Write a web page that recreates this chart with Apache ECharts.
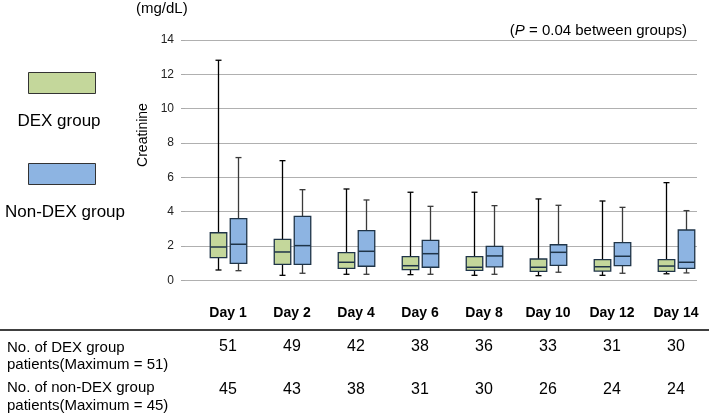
<!DOCTYPE html>
<html>
<head>
<meta charset="utf-8">
<script src="https://cdn.jsdelivr.net/npm/echarts@6/dist/echarts.min.js"></script>
<style>
html,body{margin:0;padding:0;background:#fff;}
#chart{width:709px;height:413px;}
</style>
</head>
<body>
<div id="chart"></div>
<script>
// ---- data ----
var categories = ['Day 1','Day 2','Day 4','Day 6','Day 8','Day 10','Day 12','Day 14'];
var dexLow    = [0.60,0.29,0.35,0.33,0.29,0.27,0.29,0.38];
var dexQ1     = [1.32,0.93,0.70,0.62,0.58,0.52,0.54,0.52];
var dexMedian = [1.94,1.65,1.05,0.85,0.76,0.76,0.79,0.83];
var dexQ3     = [2.77,2.39,1.61,1.38,1.38,1.24,1.20,1.20];
var dexHigh   = [12.82,6.97,5.32,5.13,5.13,4.74,4.62,5.69];
var nonLow    = [0.56,0.41,0.35,0.35,0.35,0.47,0.41,0.43];
var nonQ1     = [0.99,0.93,0.82,0.76,0.78,0.87,0.85,0.70];
var nonMedian = [2.10,2.02,1.69,1.55,1.42,1.63,1.40,1.05];
var nonQ3     = [3.59,3.73,2.89,2.33,1.98,2.07,2.19,2.93];
var nonHigh   = [7.15,5.28,4.68,4.31,4.35,4.37,4.25,4.06];
var dexCounts    = [51,49,42,38,36,33,31,30];
var nonDexCounts = [45,43,38,31,30,26,24,24];
var yMin = 0, yMax = 14, yInterval = 2;
var seriesNames = ['DEX group','Non-DEX group'];
var rowLabels = [['No. of DEX group','patients(Maximum = 51)'],['No. of non-DEX group','patients(Maximum = 45)']];

var FONT = '"Liberation Sans", Arial, Helvetica, sans-serif';
var BOX_BORDER = '#1f3448';
var GREEN = '#c4d79b';
var BLUE = '#8db4e2';

function buildData(lo,q1,md,q3,hi){
  return categories.map(function(c,i){ return [i, lo[i], q1[i], md[i], q3[i], hi[i]]; });
}

function makeRender(offset, fill, whisker){
  return function(params, api){
    var x = api.value(0);
    var pLo = api.coord([x, api.value(1)]);
    var pQ1 = api.coord([x, api.value(2)]);
    var pMd = api.coord([x, api.value(3)]);
    var pQ3 = api.coord([x, api.value(4)]);
    var pHi = api.coord([x, api.value(5)]);
    var cx = Math.round(pLo[0] + offset) + 0.5;
    var hw = 8.25, cap = 3;
    var ls = {stroke: whisker, lineWidth: 1.3};
    return {type:'group', children:[
      {type:'line', shape:{x1:cx,y1:pHi[1],x2:cx,y2:pQ3[1]}, style:ls},
      {type:'line', shape:{x1:cx,y1:pQ1[1],x2:cx,y2:pLo[1]}, style:ls},
      {type:'line', shape:{x1:cx-cap,y1:pHi[1],x2:cx+cap,y2:pHi[1]}, style:ls},
      {type:'line', shape:{x1:cx-cap,y1:pLo[1],x2:cx+cap,y2:pLo[1]}, style:ls},
      {type:'rect', shape:{x:cx-hw, y:pQ3[1], width:2*hw, height:pQ1[1]-pQ3[1]},
        style:{fill:fill, stroke:BOX_BORDER, lineWidth:1.3}},
      {type:'line', shape:{x1:cx-hw,y1:pMd[1],x2:cx+hw,y2:pMd[1]}, style:{stroke:BOX_BORDER, lineWidth:1.5}}
    ]};
  };
}

var chart = echarts.init(document.getElementById('chart'), null, {renderer:'canvas'});

var gridTop = 40, gridBottom = 413 - 280.3;

var option = {
  animation: false,
  backgroundColor: '#fff',
  textStyle: {fontFamily: FONT},
  grid: [
    {left:185, right:12, top:gridTop, bottom:gridBottom},
    {left:196, right:1, top:gridTop, bottom:gridBottom}
  ],
  xAxis: [
    {type:'category', gridIndex:0, data:categories, show:false},
    {type:'category', gridIndex:1, data:categories, position:'bottom',
      axisLine:{show:false}, axisTick:{show:false},
      axisLabel:{margin:26, fontSize:14, fontWeight:'bold', color:'#000', fontFamily:FONT}},
    {type:'category', gridIndex:1, data:dexCounts, position:'bottom', offset:58,
      axisLine:{show:false}, axisTick:{show:false},
      axisLabel:{margin:0, fontSize:16, color:'#000', fontFamily:FONT}},
    {type:'category', gridIndex:1, data:nonDexCounts, position:'bottom', offset:101,
      axisLine:{show:false}, axisTick:{show:false},
      axisLabel:{margin:0, fontSize:16, color:'#000', fontFamily:FONT}}
  ],
  yAxis: [
    {type:'value', gridIndex:0, min:yMin, max:yMax, interval:yInterval,
      axisLine:{show:false},
      axisTick:{show:true, length:4, lineStyle:{color:'#aaaaaa'}},
      axisLabel:{margin:11, fontSize:12, color:'#222', fontFamily:FONT},
      splitLine:{show:true, lineStyle:{color:'#b0b0b0', width:1.2}}},
    {type:'value', gridIndex:1, min:yMin, max:yMax, interval:yInterval, show:false, splitLine:{show:false}}
  ],
  series: [
    {name:seriesNames[0], type:'custom', xAxisIndex:1, yAxisIndex:1,
      data: buildData(dexLow,dexQ1,dexMedian,dexQ3,dexHigh),
      encode:{x:0, y:[1,2,3,4,5]},
      renderItem: makeRender(-10.5, GREEN, '#000')},
    {name:seriesNames[1], type:'custom', xAxisIndex:1, yAxisIndex:1,
      data: buildData(nonLow,nonQ1,nonMedian,nonQ3,nonHigh),
      encode:{x:0, y:[1,2,3,4,5]},
      renderItem: makeRender(10, BLUE, '#3a3a3a')}
  ],
  graphic: [
    {type:'text', left:136, top:1, style:{text:'(mg/dL)', font:'15px '+FONT, fill:'#000'}},
    {type:'text', x:143, y:135, rotation:Math.PI/2,
      style:{text:'Creatinine', font:'14px '+FONT, fill:'#000', align:'center', verticalAlign:'middle'}},
    {type:'text', x:687, y:31,
      style:{text:'({i|P} = 0.04 between groups)', font:'15px '+FONT, fill:'#000', align:'right', verticalAlign:'middle',
        rich:{i:{fontStyle:'italic', fontSize:15, fontFamily:FONT}}}},
    {type:'rect', shape:{x:28.5, y:72.5, width:67, height:21}, style:{fill:GREEN, stroke:'#333', lineWidth:1}},
    {type:'text', x:59, y:121, style:{text:seriesNames[0], font:'17px '+FONT, fill:'#000', align:'center', verticalAlign:'middle'}},
    {type:'rect', shape:{x:28.5, y:163.5, width:67, height:21}, style:{fill:BLUE, stroke:'#333', lineWidth:1}},
    {type:'text', x:65, y:212, style:{text:seriesNames[1], font:'17px '+FONT, fill:'#000', align:'center', verticalAlign:'middle'}},
    {type:'line', shape:{x1:0, y1:330, x2:709, y2:330}, style:{stroke:'#000', lineWidth:1.5}},
    {type:'text', x:7, y:348, style:{text:rowLabels[0][0], font:'15px '+FONT, fill:'#000', verticalAlign:'middle'}},
    {type:'text', x:7, y:365, style:{text:rowLabels[0][1], font:'15px '+FONT, fill:'#000', verticalAlign:'middle'}},
    {type:'text', x:7, y:388, style:{text:rowLabels[1][0], font:'15px '+FONT, fill:'#000', verticalAlign:'middle'}},
    {type:'text', x:7, y:406, style:{text:rowLabels[1][1], font:'15px '+FONT, fill:'#000', verticalAlign:'middle'}}
  ]
};
chart.setOption(option);
</script>
</body>
</html>
